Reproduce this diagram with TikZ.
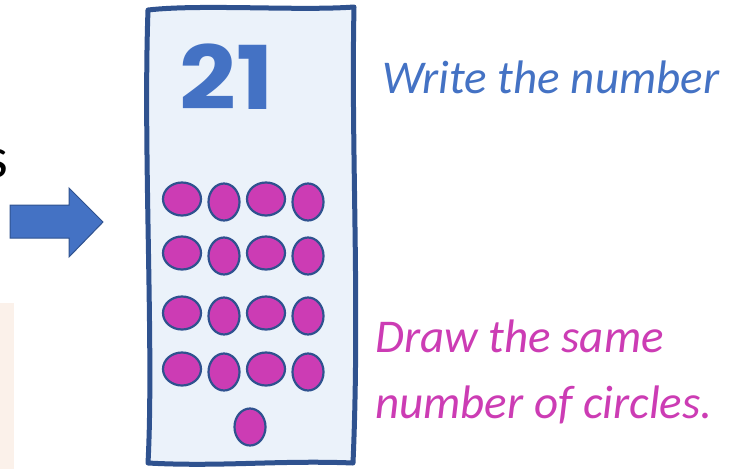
\documentclass[tikz,border=0pt]{standalone}
\usepackage{fontspec}
\setmainfont{Carlito}
\newfontfamily\digitfont{Poppins}
\usetikzlibrary{positioning}
\definecolor{edgeblue}{HTML}{2F528F}
\definecolor{textblue}{HTML}{4472C4}
\definecolor{cardfill}{HTML}{EBF2FA}
\definecolor{dotpink}{HTML}{CC3CB4}
\definecolor{peach}{HTML}{FBF1EA}

\begin{document}
\begin{tikzpicture}[x=1pt, y=-1pt,
    card/.style={draw=edgeblue, line width=5pt, fill=cardfill, line join=round},
    dot/.style={draw=edgeblue, line width=2.2pt, fill=dotpink},
    blockarrow/.style={draw=edgeblue, line width=1pt, fill=textblue},
    hint/.style={font=\fontsize{47}{50}\selectfont\itshape, anchor=base west, inner sep=0pt}]
  \useasboundingbox (0,0) rectangle (738,469);
  % left-hand leftovers
  \fill[peach] (0,303) rectangle (14,469);
  \node[anchor=base east, inner sep=0pt, font=\fontsize{58}{60}\selectfont] (cut) at (8,177) {s};
  \draw[blockarrow] (10,205) -- (69,205) -- (69,188) -- (103,222) -- (69,257) -- (69,238) -- (10,238) -- cycle;
  % the card, hand-drawn edges
  \draw[card] (148,10) .. controls (200,4) and (300,11) .. (354,7)
    .. controls (351,150) and (360,300) .. (353,463)
    .. controls (280,460) and (220,467) .. (148,463)
    .. controls (154,350) and (143,150) .. cycle;
  \node[font=\fontsize{88}{88}\digitfont\bfseries, text=textblue, inner sep=0pt, xscale=1.13] (num) at (226.5,76.5) {21};
  % circles, four rows of four and one more
  \foreach \y in {199,253,313,369} {
    \draw[dot] (182,\y) ellipse (19 and 16.5);
    \draw[dot] (224,\y+3) ellipse (15.5 and 18.5);
    \draw[dot] (266,\y) ellipse (19 and 16.5);
    \draw[dot] (308,\y+3) ellipse (15.5 and 18.5);
  }
  \draw[dot] (250,427) ellipse (15.5 and 18.5);
  % instructions
  \node[hint, text=textblue] (write) at (382,93) {Write the number};
  \node[hint, text=dotpink] (draw1) at (375,352) {Draw the same};
  \node[hint, text=dotpink] (draw2) at (375,418) {number of circles.};
\end{tikzpicture}
\end{document}
